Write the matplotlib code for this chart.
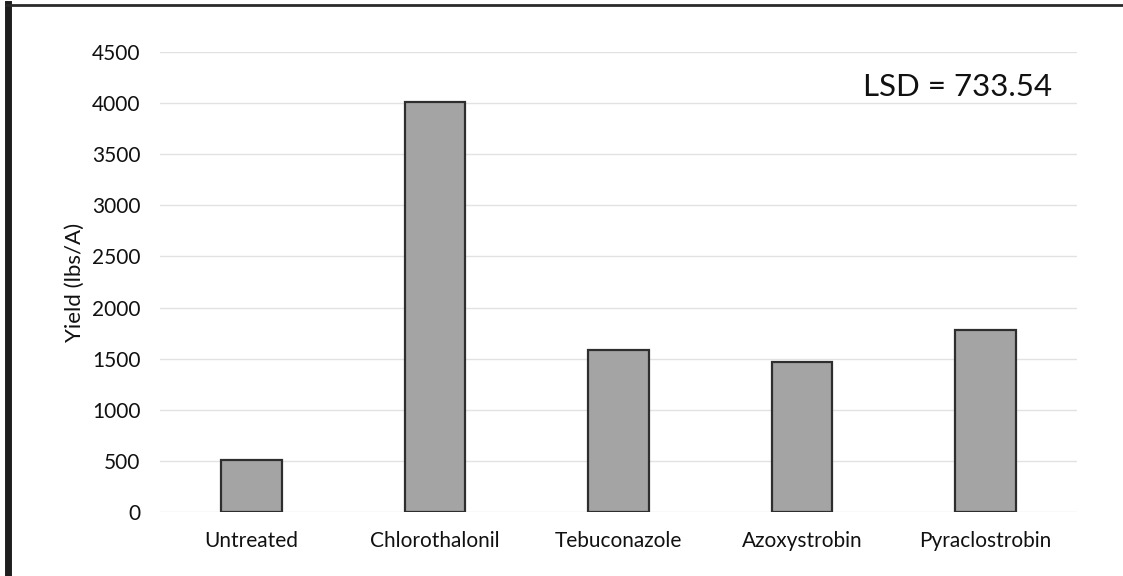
import matplotlib.pyplot as plt
from matplotlib.lines import Line2D

treatments = ['Untreated', 'Chlorothalonil', 'Tebuconazole', 'Azoxystrobin', 'Pyraclostrobin']
yield_lbs = [510, 4010, 1585, 1470, 1785]
yticks = [0, 500, 1000, 1500, 2000, 2500, 3000, 3500, 4000, 4500]
lsd_text = 'LSD = 733.54'

plt.rcParams['font.family'] = ['Lato', 'DejaVu Sans']

fig = plt.figure(figsize=(11.23, 5.76), dpi=100)
ax = fig.add_axes([0.1425, 0.1111, 0.8165, 0.7986])

x = range(len(treatments))
ax.bar(x, yield_lbs, width=0.33, color='#a4a4a4',
       edgecolor='#2e2e2e', linewidth=1.6, zorder=3)

ax.set_xlim(-0.5, len(treatments) - 0.5)
ax.set_ylim(0, 4500)
ax.set_yticks(yticks)
ax.set_xticks(list(x))
ax.set_xticklabels(treatments)
ax.tick_params(axis='both', length=0, labelsize=15, colors='#111111')
ax.tick_params(axis='x', pad=14)
ax.tick_params(axis='y', pad=14)
ax.grid(axis='y', color='#e2e2e2', lw=1, zorder=0)
for s in ax.spines.values():
    s.set_visible(False)

ax.set_ylabel('Yield (lbs/A)', fontsize=16, color='#111111', labelpad=5)

ax.text(0.973, 0.925, lsd_text, transform=ax.transAxes,
        ha='right', va='center', fontsize=22.5, color='#111111')

# scanned page frame: thick left edge, thin top edge
fig.add_artist(Line2D([0.0074, 0.0074], [0, 0.993], transform=fig.transFigure,
                      color='#1e1e1e', lw=5))
fig.add_artist(Line2D([0.005, 1], [0.992, 0.992], transform=fig.transFigure,
                      color='#2a2a2a', lw=2))

plt.savefig('out.png', dpi=100)
